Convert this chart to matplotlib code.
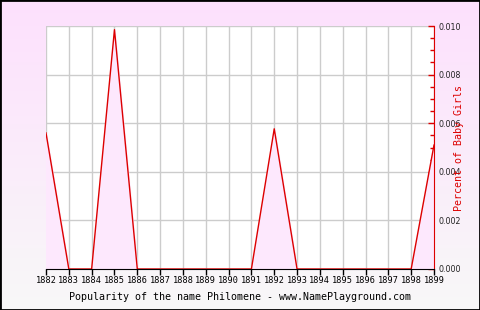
import matplotlib.pyplot as plt
import numpy as np
from matplotlib.patches import Rectangle
from matplotlib.ticker import MultipleLocator

# popularity of "Philomene", percent of baby girls per year
years = [1882, 1883, 1884, 1885, 1886, 1887, 1888, 1889, 1890,
         1891, 1892, 1893, 1894, 1895, 1896, 1897, 1898, 1899]
percent = [0.0056, 0.0, 0.0, 0.00985, 0.0, 0.0, 0.0, 0.0, 0.0,
           0.0, 0.00577, 0.0, 0.0, 0.0, 0.0, 0.0, 0.0, 0.0051]
yticks = [0.000, 0.002, 0.004, 0.006, 0.008, 0.010]

mono = 'DejaVu Sans Mono'

fig = plt.figure(figsize=(4.8, 3.1), dpi=100)

# pink-to-white gradient behind everything
bg = fig.add_axes([0, 0, 1, 1], zorder=-10)
grad = np.linspace(0, 1, 256).reshape(-1, 1)
top_c = np.array([253, 224, 253]) / 255
bot_c = np.array([248, 248, 248]) / 255
img = top_c * (1 - grad[..., None]) + bot_c * grad[..., None]
bg.imshow(img, aspect='auto', extent=[0, 1, 0, 1])
bg.axis('off')

ax = fig.add_axes([46 / 480, 1 - 269 / 310, 388 / 480, 243 / 310])
ax.set_facecolor('white')

ax.fill_between(years, percent, 0, color='#fde8fd', zorder=1)
ax.plot(years, percent, color='#dd0000', linewidth=1, zorder=2)

ax.set_xlim(1882, 1899)
ax.set_ylim(0, 0.010)
ax.set_xticks(years)
ax.set_xticklabels([str(y) for y in years], fontfamily=mono, fontsize=6.2)
ax.set_yticks(yticks)
ax.set_yticklabels(['%.3f' % v for v in yticks], fontsize=5.7, color='#222222')
ax.yaxis.set_minor_locator(MultipleLocator(0.0005))
ax.yaxis.tick_right()
ax.yaxis.set_label_position('right')

ax.grid(True, color='#cccccc', linewidth=1, zorder=0)
ax.set_axisbelow(True)

ax.tick_params(axis='x', direction='out', length=4, width=1, color='black', pad=1)
ax.tick_params(axis='y', which='both', direction='in', color='#dd0000', width=1, pad=3)
ax.tick_params(axis='y', which='major', length=4)
ax.tick_params(axis='y', which='minor', length=3)

ax.spines['left'].set_visible(False)
ax.spines['top'].set_visible(False)
ax.spines['bottom'].set_color('black')
ax.spines['bottom'].set_zorder(3)
ax.spines['right'].set_color('#dd0000')
ax.spines['right'].set_zorder(3)

ax.set_ylabel('Percent of Baby Girls', color='#dd0000', fontfamily=mono,
              fontsize=7.2, labelpad=-5)
ax.set_xlabel('Popularity of the name Philomene - www.NamePlayground.com',
              fontfamily=mono, fontsize=7.2, labelpad=5)

fig.patches.append(Rectangle((0, 0), 1, 1, transform=fig.transFigure,
                             fill=False, edgecolor='black', linewidth=2))

fig.savefig('out.png', dpi=100)
